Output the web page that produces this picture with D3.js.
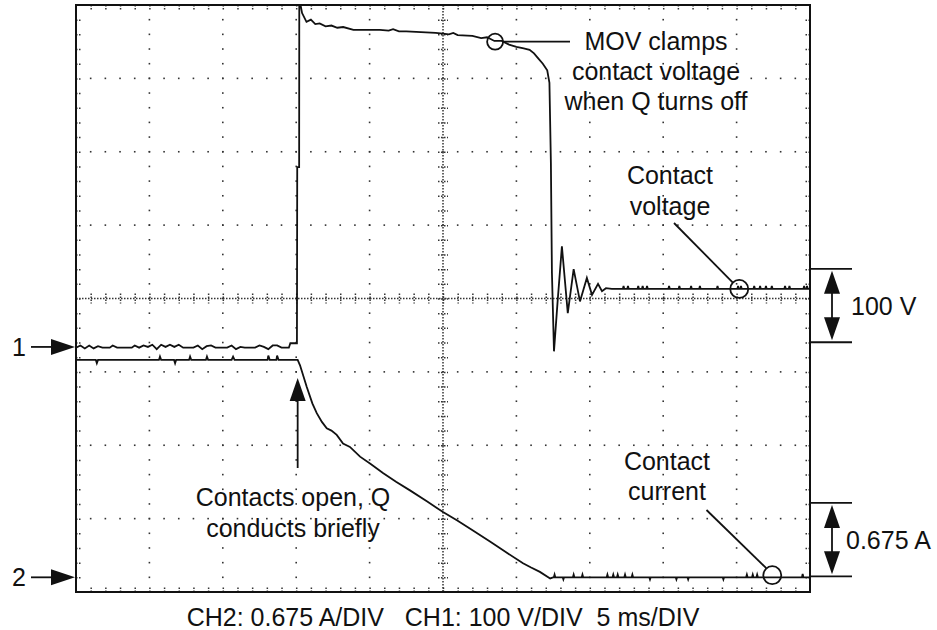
<!DOCTYPE html>
<html>
<head>
<meta charset="utf-8">
<script src="https://cdn.jsdelivr.net/npm/d3@7"></script>
<style>
  body { margin: 0; background: #fff; }
  text { font-family: "Liberation Sans", Arial, sans-serif; font-size: 25px; fill: #111; }
</style>
</head>
<body>
<div id="scope"></div>
<script>
// scope settings
const timePerDiv = 5;        // ms/DIV
const ch1PerDiv = 100;       // V/DIV
const ch2PerDiv = 0.675;     // A/DIV
const ch1Offset = 3.34;      // ground marker, divisions above bottom
const ch2Offset = 0.2;

// CH1 contact voltage [ms, V]
const ch1Time = [0, 0.3, 0.6, 0.9, 1.2, 1.5, 1.8, 2.3, 2.5, 2.8, 3.8, 4.0, 4.3, 4.6, 4.9, 5.2, 5.5, 5.8, 6.1, 6.4, 6.7, 7.0, 7.3, 8.0, 8.3, 8.6, 8.9, 9.2, 9.5, 10.3, 10.6, 10.9, 11.2, 11.5, 12.2, 12.5, 12.8, 13.1, 13.4, 13.7, 14.0, 14.5, 14.6, 15.05, 15.07, 15.2, 15.21,
  15.4, 15.7, 16.0, 16.3, 16.6, 17.0, 17.4, 17.8, 18.2, 18.9, 19.5, 20.7, 21.3, 21.6, 22.0, 22.5, 23.5, 24.5, 25.0, 25.4, 25.7, 26.0, 27.0, 27.6, 28.0, 28.5, 29.0, 29.5, 30.0, 30.5, 30.9, 31.2, 31.5, 31.8, 32.1, 32.25, 32.35, 32.42,
  32.56, 32.8, 33.1, 33.5, 33.9, 34.33, 34.8, 35.15, 35.56, 35.83, 36.1, 36.5,
  37.25, 37.3, 37.35, 37.55, 37.6, 37.65, 38.25, 38.3, 38.35, 38.55, 38.6, 38.65, 38.85, 38.9, 38.95, 40.35, 40.4, 40.45, 41.05, 41.1, 41.15, 41.85, 41.9, 41.95, 42.45, 42.5, 42.55, 43.65, 43.7, 43.75,
  45.05, 45.1, 45.15, 45.25, 45.3, 45.35, 46.15, 46.2, 46.25, 46.55, 46.6, 46.65, 46.95, 47.0, 47.05, 47.35, 47.4, 47.45, 48.25, 48.3, 48.35, 48.55, 48.6, 48.65, 49.55, 49.6, 49.65, 49.75, 49.8, 49.85, 50];
const ch1Volts = [-1, 2, -2, 2, -2, 1, -1, -1, 2, -1, -1, 2, -1, 2, 0, 3, -3, 3, 0, 3, 0, 3, -1, -1, 2, -3, 1, 2, -1, -1, 2, -3, 0, -1, -1, 2, 0, -3, 2, 2, -1, -1, 5, 5, 245, 245, 475,
  455, 443, 446, 440, 441, 437, 438, 435, 436, 432, 432, 432, 431, 433, 430, 430, 429, 428, 427, 426, 428, 425, 424, 421, 422, 417, 417, 412, 409, 407, 405, 400, 393, 386, 377, 360, 250, 101,
  -6, 60, 137, 46, 106, 62, 94, 71, 86, 76, 80, 79,
  79, 83, 79, 79, 83, 79, 79, 83, 79, 79, 83, 79, 79, 83, 79, 79, 83, 79, 79, 83, 79, 79, 83, 79, 79, 83, 79, 79, 83, 79,
  79, 83, 79, 79, 83, 79, 79, 83, 79, 79, 83, 79, 79, 83, 79, 79, 83, 79, 79, 83, 79, 79, 83, 79, 79, 83, 79, 79, 83, 79, 79];

// CH2 contact current [ms, A]
const ch2Time = [0, 1.35, 1.42, 1.5, 5.65, 5.72, 5.8, 6.68, 6.75, 6.82, 7.7, 7.77, 7.85, 8.85, 8.92, 9.0, 10.6, 10.7, 10.8, 13.05, 13.1, 13.2, 13.65, 13.7, 13.8, 15.1,
  15.26, 15.72, 16.1, 16.4, 16.75, 17.08, 17.4, 17.76, 18.19, 18.66, 19.35, 20.1, 20.91, 21.8, 22.75, 23.9, 25.0, 26.0, 27.04, 28.2, 29.3, 30.45, 31.0, 31.6, 32.3,
  32.5, 32.55, 32.6, 32.65, 33.15, 33.2, 33.25, 33.85, 33.9, 33.95, 34.45, 34.5, 34.55, 36.15, 36.2, 36.25, 36.55, 36.6, 36.65, 36.85, 36.9, 36.95, 37.35, 37.4, 37.45, 37.85, 37.9, 37.95,
  39.05, 39.1, 39.15, 40.85, 40.9, 40.95, 41.65, 41.7, 41.75, 44.05, 44.1, 44.15, 45.65, 45.7, 45.75, 46.05, 46.1, 46.15, 46.35, 46.4, 46.45, 49.45, 49.5, 49.55, 50];
const ch2Amps = [2.0, 2.0, 1.97, 2.0, 2.0, 2.03, 2.0, 2.0, 1.97, 2.0, 2.0, 2.03, 2.0, 2.0, 2.03, 2.0, 2.0, 2.03, 2.0, 2.0, 2.04, 2.0, 2.0, 2.04, 2.0, 2.0,
  1.95, 1.75, 1.6, 1.51, 1.43, 1.37, 1.35, 1.31, 1.23, 1.2, 1.11, 1.04, 0.96, 0.88, 0.8, 0.7, 0.6, 0.52, 0.43, 0.33, 0.23, 0.13, 0.09, 0.05, -0.01,
  0, 0, 0.025, 0, 0, -0.02, 0, 0, 0.025, 0, 0, 0.025, 0, 0, 0.025, 0, 0, 0.025, 0, 0, 0.025, 0, 0, 0.025, 0, 0, 0.025, 0,
  0, -0.02, 0, 0, -0.02, 0, 0, -0.02, 0, 0, -0.02, 0, 0, 0.025, 0, 0, 0.025, 0, 0, 0.025, 0, 0, 0.03, 0, 0];

const ch1 = ch1Time.map((t, i) => ({t: t, v: ch1Volts[i]}));
const ch2 = ch2Time.map((t, i) => ({t: t, v: ch2Amps[i]}));

const width = 937, height = 630;
const plotL = 76, plotR = 810, plotT = 5, plotB = 592;
const nx = 10, ny = 8;

const svg = d3.select("#scope").append("svg")
    .attr("width", width)
    .attr("height", height);

const xDiv = d3.scaleLinear().domain([0, nx]).range([plotL, plotR]);
const yDiv = d3.scaleLinear().domain([0, ny]).range([plotB, plotT]);

const x = d3.scaleLinear().domain([0, nx * timePerDiv]).range([plotL, plotR]);
const y1 = d3.scaleLinear()
    .domain([-ch1Offset * ch1PerDiv, (ny - ch1Offset) * ch1PerDiv]).range([plotB, plotT]);
const y2 = d3.scaleLinear()
    .domain([-ch2Offset * ch2PerDiv, (ny - ch2Offset) * ch2PerDiv]).range([plotB, plotT]);

// dotted graticule
const grid = svg.append("g").attr("fill", "#333");
const minorX = d3.range(1, nx * 5).map(k => k / 5);
const minorY = d3.range(1, ny * 5).map(k => k / 5);
const dots = [];
d3.range(1, nx).filter(i => i != nx / 2).forEach(i => {
  minorY.forEach(k => dots.push([xDiv(i), yDiv(k)]));
});
d3.range(1, ny).filter(j => j != ny / 2).forEach(j => {
  minorX.forEach(k => dots.push([xDiv(k), yDiv(j)]));
});
grid.selectAll("rect")
    .data(dots)
    .join("rect")
    .attr("x", d => d[0] - 0.8)
    .attr("y", d => d[1] - 0.8)
    .attr("width", 1.6)
    .attr("height", 1.6);

// centre cross with minor ticks, and ticks along the frame
function tickAxis(axis, tx, ty, size) {
  const ticks = axis.scale() === xDiv ? minorX : minorY;
  const g = svg.append("g")
      .attr("transform", "translate(" + tx + "," + ty + ")")
      .call(axis.tickValues(ticks).tickSize(size).tickSizeOuter(0).tickFormat(""));
  g.select(".domain").remove();
  g.selectAll("line").attr("stroke", "#333").attr("stroke-width", 1.5).attr("stroke-dasharray", "1.5,1.5");
  return g;
}
tickAxis(d3.axisBottom(xDiv), 0, yDiv(ny / 2) - 5, 10);
tickAxis(d3.axisRight(yDiv), xDiv(nx / 2) - 5, 0, 10);
tickAxis(d3.axisBottom(xDiv), 0, plotT, 6);
tickAxis(d3.axisTop(xDiv), 0, plotB, 6);
tickAxis(d3.axisRight(yDiv), plotL, 0, 6);
tickAxis(d3.axisLeft(yDiv), plotR, 0, 6);

svg.append("line")
    .attr("x1", plotL).attr("x2", plotR)
    .attr("y1", yDiv(ny / 2)).attr("y2", yDiv(ny / 2))
    .attr("stroke", "#333").attr("stroke-width", 1.5).attr("stroke-dasharray", "1.5,1.5");
svg.append("line")
    .attr("x1", xDiv(nx / 2)).attr("x2", xDiv(nx / 2))
    .attr("y1", plotT).attr("y2", plotB)
    .attr("stroke", "#333").attr("stroke-width", 1.5).attr("stroke-dasharray", "1.5,1.5");

// traces
svg.append("clipPath").attr("id", "screen")
  .append("rect")
    .attr("x", plotL).attr("y", plotT)
    .attr("width", plotR - plotL).attr("height", plotB - plotT);

const line1 = d3.line().x(d => x(d.t)).y(d => y1(d.v));
const line2 = d3.line().x(d => x(d.t)).y(d => y2(d.v));

svg.append("path")
    .attr("clip-path", "url(#screen)")
    .attr("d", line1(ch1))
    .attr("fill", "none").attr("stroke", "#111").attr("stroke-width", 1.8);
svg.append("path")
    .attr("clip-path", "url(#screen)")
    .attr("d", line2(ch2))
    .attr("fill", "none").attr("stroke", "#111").attr("stroke-width", 1.8);

// frame
svg.append("rect")
    .attr("x", plotL).attr("y", plotT)
    .attr("width", plotR - plotL).attr("height", plotB - plotT)
    .attr("fill", "none").attr("stroke", "#111").attr("stroke-width", 2);

// annotations
const ann = svg.append("g").attr("stroke", "#111").attr("stroke-width", 1.8);

function head(xt, yt, dir, len, half) {
  // filled arrow head, tip at (xt, yt)
  let p;
  if (dir == "up") p = [[xt, yt], [xt - half, yt + len], [xt + half, yt + len]];
  else if (dir == "down") p = [[xt, yt], [xt - half, yt - len], [xt + half, yt - len]];
  else p = [[xt, yt], [xt - len, yt - half], [xt - len, yt + half]];
  ann.append("path").attr("d", d3.line()(p) + "Z").attr("fill", "#111").attr("stroke", "none");
}
function seg(xa, ya, xb, yb) {
  ann.append("line").attr("x1", xa).attr("y1", ya).attr("x2", xb).attr("y2", yb);
}
function label(lines, cx, y0, dy) {
  const t = svg.append("text").attr("text-anchor", "middle");
  lines.forEach((s, i) => t.append("tspan").attr("x", cx).attr("y", y0 + i * dy).text(s));
}

// channel markers
[["1", y1(0)], ["2", y2(0)]].forEach(m => {
  svg.append("text").attr("x", 19).attr("y", m[1] + 9).attr("text-anchor", "middle").text(m[0]);
  seg(31, m[1], 55, m[1]);
  head(plotL - 1, m[1], "right", 24, 8);
});

// MOV clamp note
const movT = 28.55, movV = 416;
ann.append("circle").attr("cx", x(movT)).attr("cy", y1(movV)).attr("r", 8).attr("fill", "none");
seg(x(movT) + 8, y1(movV), 570, y1(movV));
label(["MOV clamps", "contact voltage", "when Q turns off"], 656, 50, 30);

// contact voltage note
const cvT = 45.18, cvV = 79;
ann.append("circle").attr("cx", x(cvT)).attr("cy", y1(cvV)).attr("r", 9).attr("fill", "none");
seg(674, 223, x(cvT) - 6.4, y1(cvV) - 6.4);
label(["Contact", "voltage"], 670, 184, 31);

// contact current note
const ccT = 47.43, ccA = 0.02;
ann.append("circle").attr("cx", x(ccT)).attr("cy", y2(ccA)).attr("r", 9).attr("fill", "none");
seg(706.5, 510, x(ccT) - 6, y2(ccA) - 7);
label(["Contact", "current"], 667, 470, 30);

// contacts open arrow
const openT = 15.1;
seg(x(openT), 468, x(openT), 396);
head(x(openT), 378, "up", 23, 8);
label(["Contacts open, Q", "conducts briefly"], 293, 506, 31);

// scale bars
function scaleBar(yLow, yHigh, txt, tx) {
  seg(811, yHigh, 852, yHigh);
  seg(811, yLow, 852, yLow);
  seg(832, yHigh + 12, 832, yLow - 12);
  head(832, yHigh + 2, "up", 23, 8);
  head(832, yLow - 2, "down", 23, 8);
  svg.append("text").attr("x", tx).attr("y", (yLow + yHigh) / 2 + 9).text(txt);
}
scaleBar(y1(0) - 4.7, y1(ch1PerDiv) - 4.7, "100 V", 851);
scaleBar(y2(0) - 1, y2(ch2PerDiv) - 1, "0.675 A", 846);

// settings caption
svg.append("text")
    .attr("x", 443).attr("y", 626)
    .attr("text-anchor", "middle")
    .style("white-space", "pre")
    .text("CH2: 0.675 A/DIV   CH1: 100 V/DIV  5 ms/DIV");
</script>
</body>
</html>
